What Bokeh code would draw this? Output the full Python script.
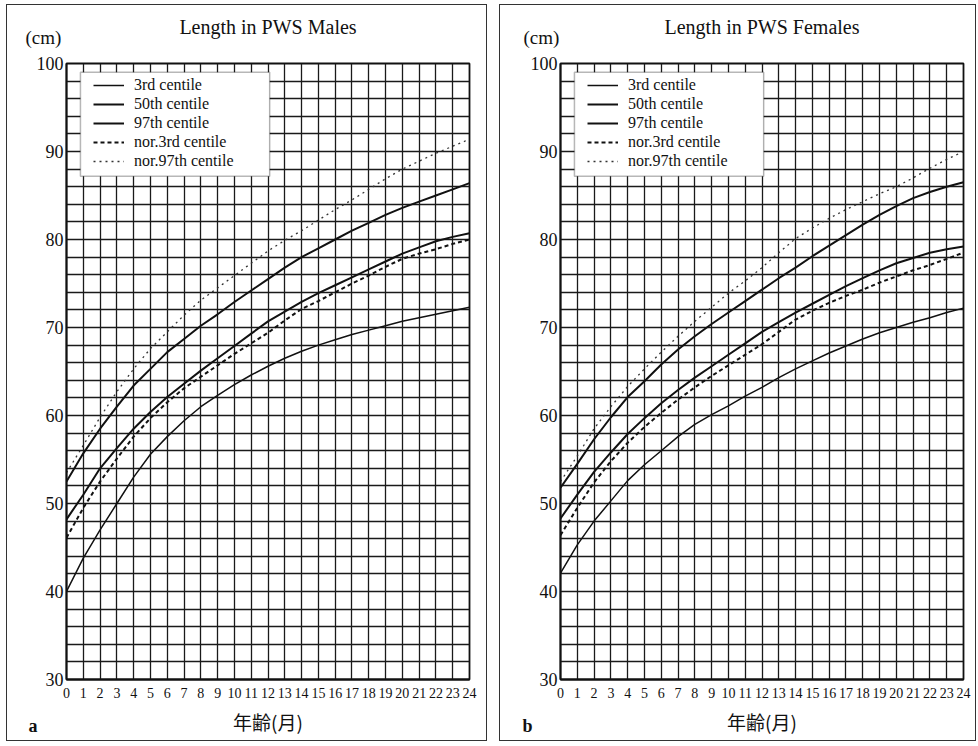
from bokeh.plotting import figure
from bokeh.layouts import row
from bokeh.models import (Range1d, FixedTicker, Title, BoxAnnotation, Legend,
                          LegendItem, ColumnDataSource)
from bokeh.embed import file_html
from bokeh.resources import INLINE

# ---------------- data ----------------
months = list(range(25))
y_ticks = [30, 40, 50, 60, 70, 80, 90, 100]
y_grid = list(range(30, 101, 2))

# Males (PWS centiles and normal references), cm by month 0..24
male_p3 = [40.0, 43.8, 47.0, 50.0, 53.0, 55.6, 57.6, 59.4, 61.0, 62.3, 63.5, 64.6, 65.6,
           66.5, 67.3, 68.0, 68.6, 69.2, 69.7, 70.2, 70.7, 71.1, 71.5, 71.9, 72.3]
male_p50 = [48.2, 51.0, 54.0, 56.3, 58.5, 60.4, 62.1, 63.6, 65.1, 66.5, 67.9, 69.3, 70.7,
            71.8, 72.9, 73.9, 74.8, 75.7, 76.6, 77.5, 78.4, 79.1, 79.8, 80.3, 80.7]
male_p97 = [52.5, 55.7, 58.5, 61.0, 63.4, 65.3, 67.2, 68.7, 70.2, 71.5, 72.9, 74.2, 75.5,
            76.8, 78.0, 79.0, 80.0, 81.0, 81.9, 82.8, 83.6, 84.3, 85.0, 85.7, 86.4]
male_nor3 = [46.1, 49.5, 52.5, 55.1, 57.6, 59.7, 61.5, 63.1, 64.4, 65.7, 67.0, 68.2, 69.4,
             70.8, 72.1, 73.0, 74.0, 75.0, 75.9, 76.9, 77.8, 78.4, 78.9, 79.5, 80.0]
male_nor97 = [53.5, 56.6, 59.8, 62.7, 65.3, 67.6, 69.5, 71.4, 73.1, 74.5, 75.9, 77.3, 78.7,
              79.9, 81.0, 82.2, 83.4, 84.5, 85.7, 86.9, 88.0, 88.9, 89.8, 90.6, 91.4]

# Females
female_p3 = [42.1, 45.3, 48.0, 50.3, 52.6, 54.4, 56.0, 57.6, 59.0, 60.1, 61.1, 62.2, 63.2,
             64.3, 65.3, 66.2, 67.1, 67.9, 68.7, 69.4, 70.0, 70.6, 71.1, 71.7, 72.2]
female_p50 = [48.3, 51.0, 53.6, 55.8, 57.9, 59.7, 61.4, 62.9, 64.3, 65.6, 66.9, 68.2, 69.5,
              70.6, 71.7, 72.7, 73.7, 74.7, 75.6, 76.5, 77.3, 77.9, 78.5, 78.9, 79.2]
female_p97 = [51.8, 54.5, 57.3, 59.8, 62.1, 63.9, 65.8, 67.5, 69.0, 70.4, 71.7, 73.0, 74.3,
              75.6, 76.8, 78.1, 79.3, 80.5, 81.7, 82.8, 83.8, 84.7, 85.4, 86.0, 86.5]
female_nor3 = [46.4, 49.5, 52.4, 54.8, 56.9, 58.7, 60.3, 61.8, 63.2, 64.5, 65.7, 66.9, 68.1,
               69.5, 70.9, 71.9, 72.8, 73.6, 74.3, 75.1, 75.8, 76.5, 77.1, 77.8, 78.5]
female_nor97 = [52.5, 55.4, 58.5, 61.0, 63.3, 65.3, 67.2, 69.0, 70.7, 72.3, 73.9, 75.3, 76.8,
                78.5, 80.1, 81.3, 82.4, 83.4, 84.3, 85.2, 86.0, 87.0, 88.1, 89.1, 90.0]

legend_labels = ["3rd centile", "50th centile", "97th centile",
                 "nor.3rd centile", "nor.97th centile"]

SERIF = "Liberation Serif"
INK = "#111111"


def make_panel(title, series, letter, width, height, margin, borders, cm_offset, letter_offset):
    bl, br, bt, bb = borders
    p = figure(width=width, height=height, x_range=Range1d(0, 24), y_range=Range1d(30, 100),
               output_backend="svg", toolbar_location=None,
               min_border_left=bl, min_border_right=br, min_border_top=bt, min_border_bottom=bb,
               background_fill_color="white", border_fill_color="white")
    p.margin = margin
    p.styles = {"outline": "1.5px solid #333333"}

    p.xaxis.ticker = FixedTicker(ticks=months)
    p.yaxis.ticker = FixedTicker(ticks=y_ticks)
    p.xgrid.ticker = FixedTicker(ticks=months)
    p.ygrid.ticker = FixedTicker(ticks=y_grid)
    p.grid.grid_line_color = "#1a1a1a"
    p.grid.grid_line_width = 1.3
    p.grid.grid_line_alpha = 1.0
    p.outline_line_color = INK
    p.outline_line_width = 1.8
    p.outline_line_alpha = 1.0

    for ax in (p.xaxis, p.yaxis):
        ax.axis_line_color = INK
        ax.axis_line_width = 1.8
        ax.major_tick_out = 0
        ax.major_tick_in = 0
        ax.minor_tick_out = 0
        ax.minor_tick_in = 0
        ax.major_label_text_font = SERIF
        ax.major_label_text_color = INK
    p.xaxis.major_label_text_font_size = "14px"
    p.xaxis.major_label_standoff = 8
    p.yaxis.major_label_text_font_size = "18px"
    p.yaxis.major_label_standoff = 3

    p.xaxis.axis_label = "年齢(月)"
    p.xaxis.axis_label_text_font = "Noto Sans CJK JP"
    p.xaxis.axis_label_text_font_size = "19px"
    p.xaxis.axis_label_text_font_style = "normal"
    p.xaxis.axis_label_text_color = INK
    p.xaxis.axis_label_standoff = 7

    p3, p50, p97, n3, n97 = series
    src = ColumnDataSource(dict(m=months, p3=p3, p50=p50, p97=p97, n3=n3, n97=n97))
    r3 = p.line("m", "p3", source=src, line_color=INK, line_width=1.5)
    r50 = p.line("m", "p50", source=src, line_color=INK, line_width=2.0)
    r97 = p.line("m", "p97", source=src, line_color=INK, line_width=2.0)
    rn3 = p.line("m", "n3", source=src, line_color=INK, line_width=2.0, line_dash="4 3")
    rn97 = p.line("m", "n97", source=src, line_color="#333333", line_width=1.3,
                  line_dash="2 4")

    # legend frame
    box = BoxAnnotation(left=0.83, right=12.1, bottom=87.2, top=99.0,
                        fill_color="white", fill_alpha=1.0,
                        line_color=INK, line_width=1.5)
    p.add_layout(box)

    legend = Legend(items=[LegendItem(label=legend_labels[0], renderers=[r3]),
                           LegendItem(label=legend_labels[1], renderers=[r50]),
                           LegendItem(label=legend_labels[2], renderers=[r97]),
                           LegendItem(label=legend_labels[3], renderers=[rn3]),
                           LegendItem(label=legend_labels[4], renderers=[rn97])],
                    location=(27, 509), padding=0, margin=0, spacing=1,
                    glyph_height=16, glyph_width=31, label_height=16, label_standoff=10,
                    label_text_font=SERIF, label_text_font_size="16px",
                    label_text_color=INK,
                    background_fill_alpha=0, border_line_alpha=0)
    p.add_layout(legend)

    # titles above: first added sits nearest to the frame
    p.add_layout(Title(text="(cm)", align="left", offset=cm_offset, standoff=31,
                       text_font=SERIF, text_font_size="19px", text_font_style="normal",
                       text_color=INK), "above")
    p.add_layout(Title(text=title, align="center", standoff=-56,
                       text_font=SERIF, text_font_size="20px", text_font_style="normal",
                       text_color=INK), "above")
    # panel letter below, pulled back up onto the line of the axis label
    p.add_layout(Title(text=letter, align="left", offset=letter_offset, standoff=-44,
                       vertical_align="top",
                       text_font=SERIF, text_font_size="18px", text_font_style="bold",
                       text_color=INK), "below")
    return p


p1 = make_panel("Length in PWS Males",
                (male_p3, male_p50, male_p97, male_nor3, male_nor97), "a",
                479, 735, (5, 0, 6, 7), (59, 17, 56, 61), -41, -38)
p2 = make_panel("Length in PWS Females",
                (female_p3, female_p50, female_p97, female_nor3, female_nor97), "b",
                475, 735, (5, 3, 6, 14), (60, 12, 58, 58), -37, -38)

layout = row(p1, p2)
open("out.html", "w").write(file_html(layout, INLINE))
